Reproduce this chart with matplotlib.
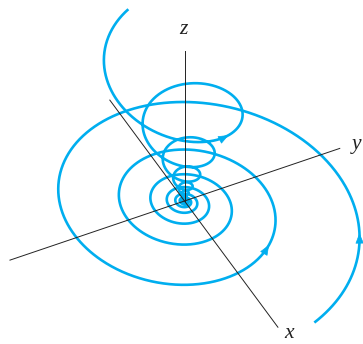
import numpy as np
import matplotlib
matplotlib.use("Agg")
import matplotlib.pyplot as plt

# ---------------- data ----------------
# trajectory lying (nearly) in the xy-plane, spiralling in to the origin
flat_start_deg = 13.5      # polar angle where it starts
flat_start_r = 158.0       # radius at the start
flat_turn_ratio = 0.52     # radius ratio after one full turn
flat_dip = 0.07            # slight dip below the plane (z = -dip * r)
flat_arrow_deg = [56.5, 393.0]

# trajectory coming down from above (conical spiral)
upper_ref_deg = 241.3      # reference angle
upper_ref_r = 66.7         # radius at reference angle
upper_ref_z = 127.0        # height at reference angle
upper_r_ratio = 0.52       # radius ratio per turn
upper_z_ratio = 0.55       # height ratio per turn
upper_start_deg = 190.0
upper_arrow_deg = [375.0]

# axes extents (x, y, z)
axis_x = [-125.5, 157.0]
axis_y = [-167.5, 149.0]
axis_z = [0.0, 150.0]
axis_labels = ["x", "y", "z"]

# ---------------- projection (layout) ----------------
O = np.array([184.5, 201.0])
U = np.array([0.595, 0.804])    # screen direction of x axis
V = np.array([1.042, -0.353])   # screen direction of y axis
W = np.array([0.0, -1.0])       # screen direction of z axis


def proj(x, y, z):
    x = np.asarray(x, float); y = np.asarray(y, float); z = np.asarray(z, float)
    px = O[0] + x * U[0] + y * V[0] + z * W[0]
    py = O[1] + x * U[1] + y * V[1] + z * W[1]
    return px, py


def flat_curve(deg):
    th = np.radians(deg)
    r = flat_start_r * flat_turn_ratio ** ((deg - flat_start_deg) / 360.0)
    return proj(r * np.cos(th), r * np.sin(th), -flat_dip * r)


def upper_curve(deg):
    th = np.radians(deg)
    turns = (deg - upper_ref_deg) / 360.0
    r = upper_ref_r * upper_r_ratio ** turns
    z = upper_ref_z * upper_z_ratio ** turns
    return proj(r * np.cos(th), r * np.sin(th), z)


CYAN = "#00AEEF"
LW = 1.9

fig = plt.figure(figsize=(3.63, 3.44), dpi=100)
ax = fig.add_axes([0, 0, 1, 1])
ax.set_xlim(0, 363)
ax.set_ylim(344, 0)
ax.axis("off")

# curves
d_flat = np.linspace(flat_start_deg, flat_start_deg + 360 * 10.5, 6000)
fx, fy = flat_curve(d_flat)
ax.plot(fx, fy, color=CYAN, lw=LW, solid_capstyle="butt", zorder=2)

d_up = np.linspace(upper_start_deg, upper_start_deg + 360 * 10.5, 6000)
ux, uy = upper_curve(d_up)
ax.plot(ux, uy, color=CYAN, lw=LW, solid_capstyle="butt", zorder=2)

# the trajectories pile up at the origin
ox, oy = proj(0, 0, 0)
ax.plot([ox], [oy], marker="o", ms=6.5, color=CYAN, mec="none", zorder=2)

# axes
for ext, k in zip([axis_x, axis_y, axis_z], range(3)):
    pts = np.zeros((3, 2))
    pts[k] = ext
    px, py = proj(pts[0], pts[1], pts[2])
    ax.plot(px, py, color="#222222", lw=0.7, zorder=3)

label_pos = [(289, 333), (357, 145), (183, 30)]
for lab, (lx, ly) in zip(axis_labels, label_pos):
    ax.text(lx, ly, lab, fontsize=15.5, fontstyle="italic", family="Liberation Serif",
            ha="center", va="center", color="#222222")


def arrow_at(func, deg):
    x0, y0 = func(np.array([deg - 3.0]))
    x1, y1 = func(np.array([deg]))
    ax.annotate("", xy=(x1[0], y1[0]), xytext=(x0[0], y0[0]),
                arrowprops=dict(arrowstyle="-|>,head_length=0.55,head_width=0.22",
                                color=CYAN, lw=0.5, shrinkA=0, shrinkB=0,
                                mutation_scale=12), zorder=4)


for d in flat_arrow_deg:
    arrow_at(flat_curve, d)
for d in upper_arrow_deg:
    arrow_at(upper_curve, d)

fig.savefig("out.png", dpi=100)
